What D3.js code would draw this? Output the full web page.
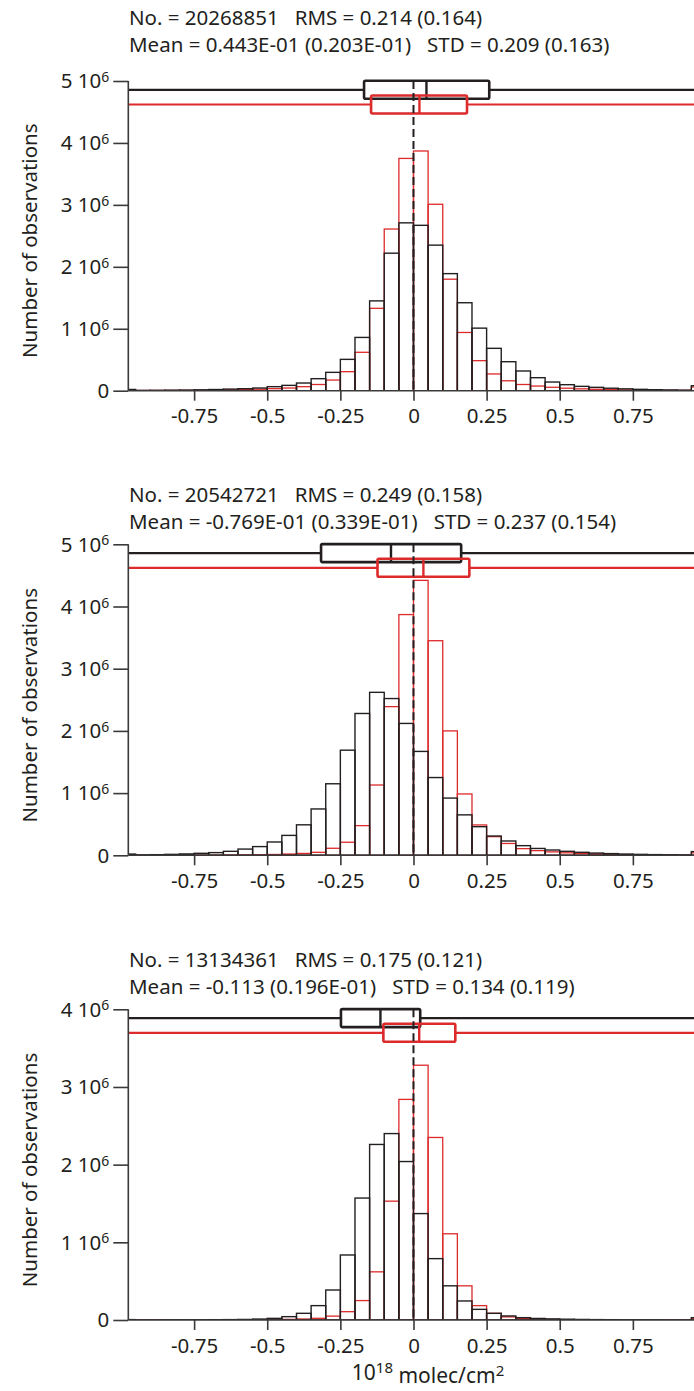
<!DOCTYPE html>
<html>
<head>
<meta charset="utf-8">
<script src="https://cdn.jsdelivr.net/npm/d3@7"></script>
<style>
  html, body { margin: 0; padding: 0; background: #fff; }
  svg { display: block; }
  text { font-family: "Noto Sans", sans-serif; fill: #231f20; }
</style>
</head>
<body>
<svg id="chart" width="694" height="1391"></svg>
<script>
// Lower edges of the 0.05-wide bins (10^18 molec/cm2); the first and last bins collect the overflow
const binStarts = [-1.0, -0.95, -0.9, -0.85, -0.8, -0.75, -0.7, -0.65, -0.6, -0.55,
                   -0.5, -0.45, -0.4, -0.35, -0.3, -0.25, -0.2, -0.15, -0.1, -0.05,
                   0.0, 0.05, 0.1, 0.15, 0.2, 0.25, 0.3, 0.35, 0.4, 0.45,
                   0.5, 0.55, 0.6, 0.65, 0.7, 0.75, 0.8, 0.85, 0.9, 0.95];
const binWidth = 0.05;

const xTickValues = [-0.75, -0.5, -0.25, 0, 0.25, 0.5, 0.75];
const xTickLabels = ["-0.75", "-0.5", "-0.25", "0", "0.25", "0.5", "0.75"];
const xTitle = { base: "10", sup: "18", rest: " molec/cm", sup2: "2" };
const yTitle = "Number of observations";

// Counts per bin, in millions of observations
const countsBlack1 = [0.02, 0.005, 0.006, 0.008, 0.01, 0.014, 0.019, 0.026, 0.032, 0.043,
                      0.065, 0.086, 0.124, 0.194, 0.296, 0.506, 0.86, 1.45, 2.22, 2.71,
                      2.67, 2.35, 1.89, 1.42, 1.01, 0.684, 0.468, 0.318, 0.21, 0.14,
                      0.097, 0.07, 0.054, 0.04, 0.03, 0.022, 0.016, 0.012, 0.009, 0.08];
const countsRed1   = [0.01, 0.003, 0.004, 0.005, 0.006, 0.008, 0.011, 0.014, 0.018, 0.024,
                      0.033, 0.043, 0.065, 0.10, 0.172, 0.307, 0.62, 1.33, 2.61, 3.75,
                      3.87, 3.01, 1.80, 0.94, 0.485, 0.27, 0.16, 0.10, 0.075, 0.055,
                      0.04, 0.03, 0.022, 0.017, 0.013, 0.01, 0.008, 0.006, 0.005, 0.06];

const countsBlack2 = [0.02, 0.007, 0.01, 0.015, 0.022, 0.032, 0.043, 0.064, 0.10, 0.14,
                      0.214, 0.32, 0.49, 0.745, 1.15, 1.69, 2.28, 2.62, 2.52, 2.12,
                      1.67, 1.25, 0.92, 0.65, 0.46, 0.31, 0.23, 0.155, 0.11, 0.085,
                      0.064, 0.048, 0.036, 0.027, 0.02, 0.015, 0.011, 0.008, 0.006, 0.06];
const countsRed2   = [0.005, 0.001, 0.001, 0.002, 0.002, 0.003, 0.004, 0.005, 0.007, 0.009,
                      0.013, 0.02, 0.03, 0.048, 0.113, 0.21, 0.477, 1.13, 2.39, 3.87,
                      4.42, 3.45, 2.00, 0.986, 0.488, 0.30, 0.19, 0.107, 0.075, 0.055,
                      0.04, 0.03, 0.022, 0.016, 0.012, 0.009, 0.007, 0.005, 0.004, 0.04];

const countsBlack3 = [0.005, 0.001, 0.001, 0.002, 0.002, 0.003, 0.004, 0.005, 0.007, 0.012,
                      0.021, 0.043, 0.086, 0.185, 0.386, 0.837, 1.57, 2.26, 2.40, 2.04,
                      1.37, 0.79, 0.44, 0.245, 0.137, 0.086, 0.052, 0.03, 0.02, 0.014,
                      0.01, 0.007, 0.005, 0.004, 0.003, 0.002, 0.002, 0.001, 0.001, 0.03];
const countsRed3   = [0.002, 0.001, 0.001, 0.001, 0.001, 0.001, 0.001, 0.002, 0.002, 0.003,
                      0.005, 0.008, 0.013, 0.022, 0.05, 0.107, 0.25, 0.62, 1.53, 2.84,
                      3.28, 2.35, 1.11, 0.44, 0.185, 0.086, 0.04, 0.02, 0.012, 0.008,
                      0.005, 0.004, 0.003, 0.002, 0.002, 0.001, 0.001, 0.001, 0.001, 0.02];

// Box summaries: [lower quartile, mean, upper quartile]
const boxBlack1 = [-0.169, 0.0443, 0.259];
const boxRed1   = [-0.145, 0.0203, 0.183];
const boxBlack2 = [-0.316, -0.0769, 0.163];
const boxRed2   = [-0.123, 0.0339, 0.191];
const boxBlack3 = [-0.248, -0.113, 0.023];
const boxRed3   = [-0.103, 0.0196, 0.143];

// Statistics headers
const header1 = ["No. = 20268851   RMS = 0.214 (0.164)",
                 "Mean = 0.443E-01 (0.203E-01)   STD = 0.209 (0.163)"];
const header2 = ["No. = 20542721   RMS = 0.249 (0.158)",
                 "Mean = -0.769E-01 (0.339E-01)   STD = 0.237 (0.154)"];
const header3 = ["No. = 13134361   RMS = 0.175 (0.121)",
                 "Mean = -0.113 (0.196E-01)   STD = 0.134 (0.119)"];

// Y ticks, in millions
const yTicks1 = [0, 1, 2, 3, 4, 5];
const yTicks2 = [0, 1, 2, 3, 4, 5];
const yTicks3 = [0, 1, 2, 3, 4];

const BLACK = "#231f20";
const RED = "#dd2a2b";
const AXIS = "#3a3a3a";

const panels = [
  { black: countsBlack1, red: countsRed1, boxB: boxBlack1, boxR: boxRed1, header: header1, yTicks: yTicks1, base: 390.7, top: 81,     headY: 25 },
  { black: countsBlack2, red: countsRed2, boxB: boxBlack2, boxR: boxRed2, header: header2, yTicks: yTicks2, base: 855.3, top: 544.3,  headY: 502 },
  { black: countsBlack3, red: countsRed3, boxB: boxBlack3, boxR: boxRed3, header: header3, yTicks: yTicks3, base: 1320,  top: 1009.3, headY: 967 }
];

const svg = d3.select("#chart");
const W = 694;
const axisX = 128.3;
const x = d3.scaleLinear().domain([-0.975, 0.975]).range([axisX, axisX + 1.95 * 292.5]);

panels.forEach((p, i) => {
  const yMax = d3.max(p.yTicks);
  const y = d3.scaleLinear().domain([0, yMax * 1e6]).range([p.base, p.top]);
  const g = svg.append("g");

  const clipId = "clip" + i;
  svg.append("clipPath").attr("id", clipId)
    .append("rect").attr("x", axisX).attr("y", p.top - 40).attr("width", W - axisX).attr("height", p.base - p.top + 40);

  // headers
  g.selectAll("text.hdr").data(p.header).join("text")
    .attr("class", "hdr")
    .attr("x", 129)
    .attr("y", (d, k) => p.headY + k * 27)
    .attr("font-size", 20.5)
    .style("white-space", "pre")
    .text(d => d);

  const plot = g.append("g").attr("clip-path", `url(#${clipId})`);

  // histograms: red first, black outlines on top
  const bars = (vals, color, sw) => plot.append("g")
    .selectAll("rect").data(binStarts.map((b, k) => ({ b, v: vals[k] }))).join("rect")
    .attr("x", d => x(d.b))
    .attr("width", d => x(d.b + binWidth) - x(d.b))
    .attr("y", d => y(d.v * 1e6))
    .attr("height", d => y(0) - y(d.v * 1e6))
    .attr("fill", "none")
    .attr("stroke", color)
    .attr("stroke-width", sw);
  bars(p.red, RED, 1.3);
  bars(p.black, BLACK, 1.4);

  // box summaries drawn above the histograms
  const box = (s, color, cy) => {
    const h = 9;
    const bg = plot.append("g").attr("stroke", color).attr("fill", "none");
    bg.append("line").attr("x1", axisX).attr("x2", x(s[0])).attr("y1", cy).attr("y2", cy).attr("stroke-width", 2.2);
    bg.append("line").attr("x1", x(s[2])).attr("x2", W + 10).attr("y1", cy).attr("y2", cy).attr("stroke-width", 2.2);
    bg.append("rect").attr("x", x(s[0])).attr("y", cy - h).attr("width", x(s[2]) - x(s[0])).attr("height", 2 * h)
      .attr("rx", 1.5).attr("stroke-width", 2.6);
    bg.append("line").attr("x1", x(s[1])).attr("x2", x(s[1])).attr("y1", cy - h).attr("y2", cy + h).attr("stroke-width", 2.4);
  };
  box(p.boxB, BLACK, p.top + 8.8);
  box(p.boxR, RED, p.top + 23.5);

  // zero reference line
  g.append("line")
    .attr("x1", x(0)).attr("x2", x(0))
    .attr("y1", p.top).attr("y2", p.base)
    .attr("stroke", BLACK).attr("stroke-width", 2)
    .attr("stroke-dasharray", "8,4");

  // x axis
  g.append("line").attr("x1", axisX).attr("x2", W).attr("y1", p.base).attr("y2", p.base)
    .attr("stroke", AXIS).attr("stroke-width", 1.6);
  const xa = g.append("g").attr("transform", `translate(0,${p.base})`)
    .call(d3.axisBottom(x).tickValues(xTickValues).tickFormat((d, k) => xTickLabels[k]).tickSize(10).tickPadding(8));
  xa.select(".domain").remove();
  xa.selectAll(".tick line").attr("stroke", AXIS).attr("stroke-width", 1.6);
  xa.selectAll(".tick text").attr("font-size", 20.5).attr("font-family", "Noto Sans").attr("fill", BLACK);

  // y axis
  const ya = g.append("g").attr("transform", `translate(${axisX},0)`)
    .call(d3.axisLeft(y).tickValues(p.yTicks.map(v => v * 1e6)).tickSize(15).tickFormat(""));
  ya.select(".domain").attr("stroke", AXIS).attr("stroke-width", 1.6)
    .attr("d", `M0,${p.base}V${p.top}`);
  ya.selectAll(".tick line").attr("stroke", AXIS).attr("stroke-width", 1.6);

  const yl = g.selectAll("text.ytl").data(p.yTicks).join("text")
    .attr("class", "ytl")
    .attr("x", axisX - 19)
    .attr("y", v => y(v * 1e6))
    .attr("dy", "0.36em")
    .attr("text-anchor", "end")
    .attr("font-size", 20.5);
  yl.each(function (v) {
    const t = d3.select(this);
    if (v === 0) { t.text("0"); return; }
    t.append("tspan").text(v + " 10");
    t.append("tspan").attr("dy", "-0.45em").attr("font-size", 14).text("6");
  });

  // y axis title
  g.append("text")
    .attr("transform", `translate(37,${p.base - 150}) rotate(-90)`)
    .attr("text-anchor", "middle")
    .attr("font-size", 20.5)
    .text(yTitle);
});

// x axis title under the last panel
const xt = svg.append("text")
  .attr("x", 428).attr("y", 1380)
  .attr("text-anchor", "middle")
  .attr("font-size", 21);
xt.append("tspan").text(xTitle.base);
xt.append("tspan").attr("dy", "-0.45em").attr("font-size", 15).text(xTitle.sup);
xt.append("tspan").attr("dy", "0.45em").text(xTitle.rest);
xt.append("tspan").attr("dy", "-0.45em").attr("font-size", 15).text(xTitle.sup2);
</script>
</body>
</html>
